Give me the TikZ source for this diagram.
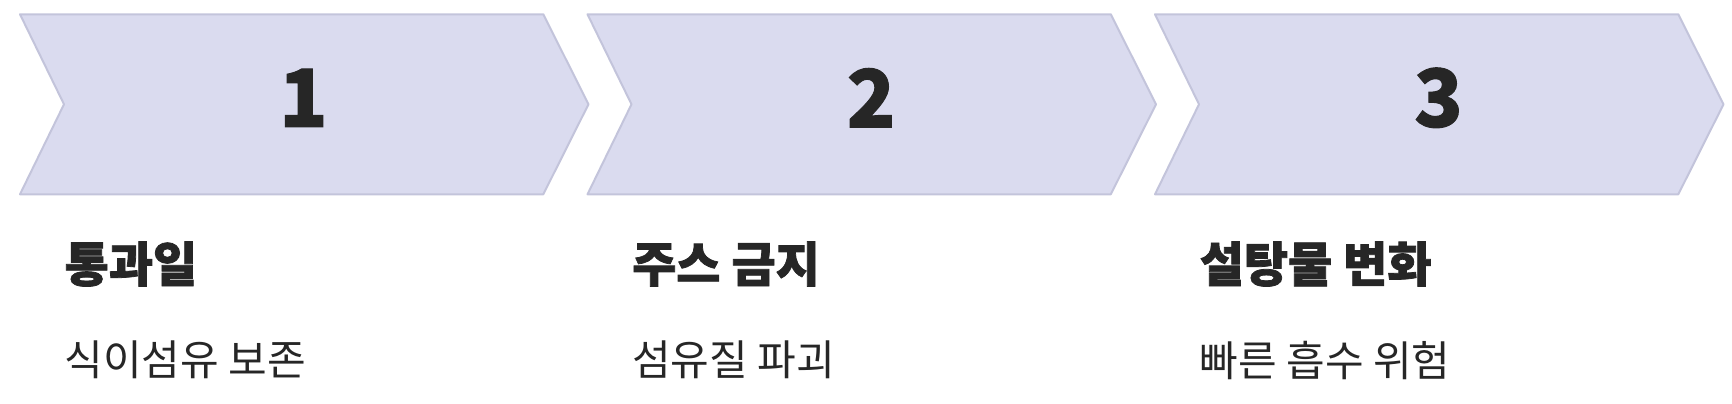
\documentclass[tikz,border=0pt]{standalone}
\usepackage{fontspec}
\newfontfamily\krreg{Noto Sans CJK KR}
\newfontfamily\krheavy{Noto Sans CJK KR Black}[FakeBold=1.6]
\newfontfamily\krnum{Noto Sans CJK KR Black}[FakeBold=1.2]
\definecolor{chevfill}{HTML}{DADBEF}
\definecolor{chevline}{HTML}{C3C4DB}
\definecolor{ink}{HTML}{262626}
\tikzset{
  chevron/.style={fill=chevfill, draw=chevline, line width=2pt, line join=round},
  numlabel/.style={inner sep=0pt, text=ink, font=\krnum\fontsize{80}{80}\selectfont},
  titlelabel/.style={inner sep=0pt, anchor=west, text=ink, font=\krheavy\fontsize{48}{48}\selectfont},
  sublabel/.style={inner sep=0pt, anchor=west, text=ink, font=\krreg\fontsize{42}{42}\selectfont}
}
\begin{document}
\begin{tikzpicture}[x=1pt,y=-1pt]
\useasboundingbox (0,0) rectangle (1732,404);
\foreach \i/\num/\title/\sub in {0/1/통과일/식이섬유 보존, 1/2/주스 금지/섬유질 파괴, 2/3/설탕물 변화/빠른 흡수 위험}{
  \pgfmathsetmacro{\xo}{20+567.5*\i}
  \draw[chevron] (\xo,14.3) -- (\xo+523.3,14.3) -- (\xo+568.5,104.3) -- (\xo+523.3,194.3)
     -- (\xo,194.3) -- (\xo+44,104.3) -- cycle;
  \node[numlabel] (num\num) at (\xo+283.5,97.8) {\num};
  \node[titlelabel] (title\num) at (\xo+44.5,264) {\title};
  \node[sublabel] (sub\num) at (\xo+44.5,360) {\sub};
}
\end{tikzpicture}
\end{document}
